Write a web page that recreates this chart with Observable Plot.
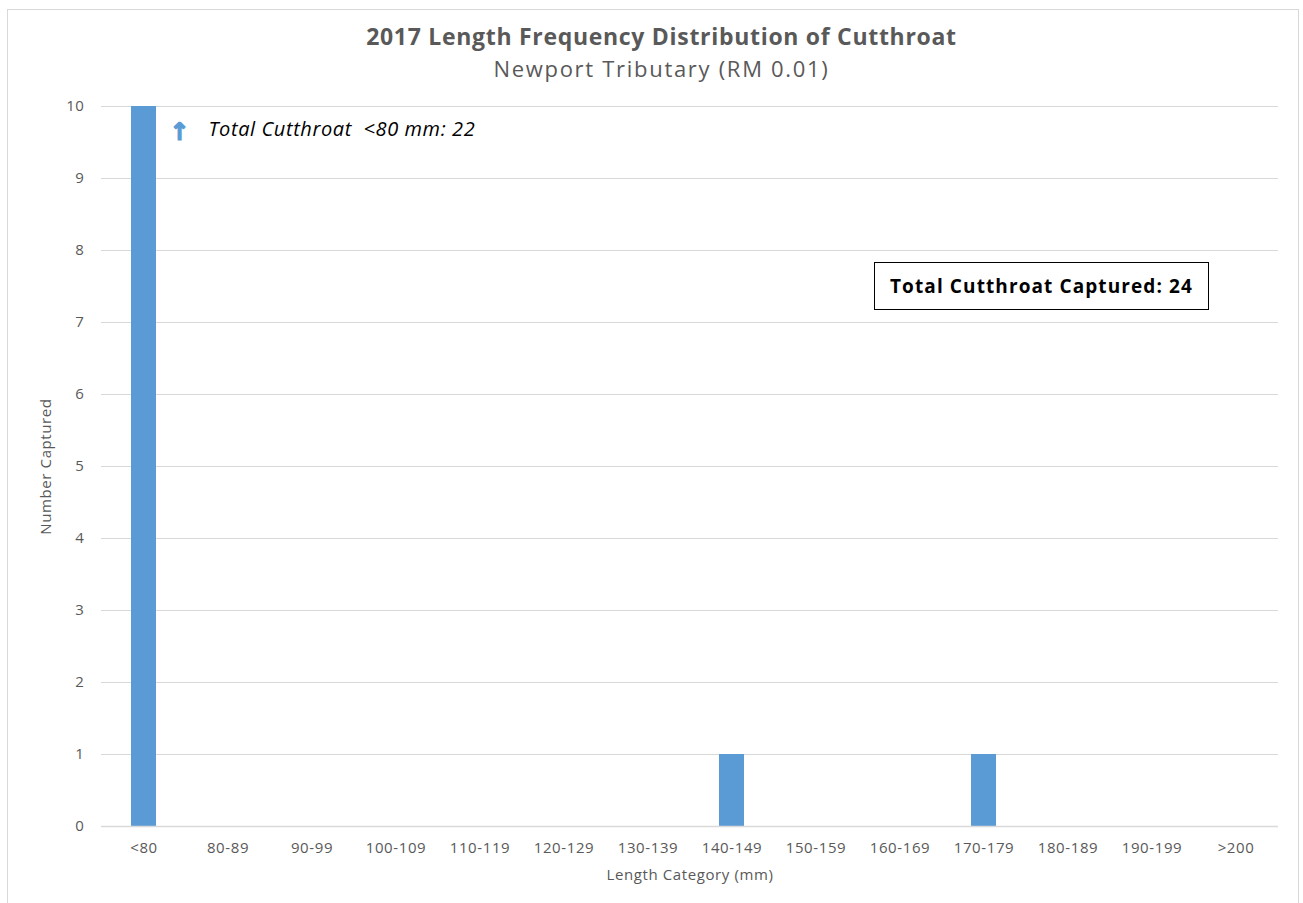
<!DOCTYPE html>
<html>
<head>
<meta charset="utf-8">
<script src="https://cdn.jsdelivr.net/npm/d3@7"></script>
<script src="https://cdn.jsdelivr.net/npm/@observablehq/plot@0.6"></script>
<style>
  html, body { margin: 0; padding: 0; background: #fff; }
  body { width: 1303px; height: 903px; overflow: hidden; position: relative; font-family: "Open Sans", sans-serif; }
  #frame { position: absolute; left: 7px; top: 9px; width: 1292px; height: 900px; border: 1px solid #d9d9d9; box-sizing: border-box; }
  #titles { position: absolute; left: 0; top: 0; width: 1303px; height: 88px; text-align: center; color: #595959; }
  #title { position: absolute; left: 0; width: 1323px; top: 20px; font-size: 23px; font-weight: bold; letter-spacing: 0.7px; }
  #subtitle { position: absolute; left: 0; width: 1323px; top: 53px; font-size: 22px; letter-spacing: 1.7px; }
  #chart { position: absolute; left: 0; top: 88px; }
  #totalbox { position: absolute; left: 874px; top: 262px; width: 335px; height: 48px; border: 1px solid #000; box-sizing: border-box; background: #fff;
              font-size: 19px; font-weight: bold; color: #000; letter-spacing: 1.1px; display: flex; align-items: center; justify-content: center; }
</style>
</head>
<body>
<div id="frame"></div>
<div id="titles">
  <div id="title">2017 Length Frequency Distribution of Cutthroat</div>
  <div id="subtitle">Newport Tributary (RM 0.01)</div>
</div>
<div id="chart"></div>
<div id="totalbox"></div>
<script>
// Length categories (mm) and number of cutthroat captured in each
const categories = ["<80", "80-89", "90-99", "100-109", "110-119", "120-129", "130-139",
                    "140-149", "150-159", "160-169", "170-179", "180-189", "190-199", ">200"];
const counts = [22, 0, 0, 0, 0, 0, 0, 1, 0, 0, 1, 0, 0, 0];
const yTicks = [0, 1, 2, 3, 4, 5, 6, 7, 8, 9, 10];

const data = categories.map((c, i) => ({category: c, count: counts[i]}));
const total = d3.sum(counts);

const chart = Plot.plot({
  width: 1303,
  height: 815,
  marginLeft: 101,
  marginRight: 25,
  marginTop: 18,
  marginBottom: 77,
  style: {fontFamily: "'Open Sans', sans-serif", fontSize: "15px", color: "#595959", background: "transparent", letterSpacing: "0.6px"},
  x: {domain: categories, paddingInner: 0.7, paddingOuter: 0.35, label: null},
  y: {domain: [0, 10], label: null},
  marks: [
    Plot.gridY(yTicks, {stroke: "#d9d9d9", strokeOpacity: 1, strokeWidth: 1}),
    // the <80 bar runs off the top of the 0–10 axis and is clipped there
    Plot.barY(data, {x: "category", y: "count", fill: "#5b9bd5", clip: true}),
    Plot.ruleY([0], {stroke: "#d9d9d9", strokeWidth: 1.5}),
    Plot.axisY(yTicks, {tickSize: 0, tickPadding: 17, tickFormat: "d", fill: "#595959", fontSize: 15, label: null}),
    Plot.axisX({tickSize: 0, tickPadding: 16, fill: "#595959", fontSize: 15, label: null}),
    // axis titles
    Plot.text(["Number Captured"], {frameAnchor: "left", textAnchor: "middle", dx: -55, rotate: -90, fontSize: 15, fill: "#595959", letterSpacing: "0.3px"}),
    Plot.text(["Length Category (mm)"], {frameAnchor: "bottom", textAnchor: "middle", dy: 53, fontSize: 15, fill: "#595959", letterSpacing: "2px"}),
    // note on the clipped first bar
    Plot.text(["↑"], {frameAnchor: "top-left", textAnchor: "middle", dx: 78, dy: 16, fontSize: 24, fontWeight: "bold", fontFamily: "DejaVu Sans",
                      fill: "#5b9bd5", stroke: "#5b9bd5", strokeWidth: 1.2, letterSpacing: "0px"}),
    Plot.text([`Total Cutthroat  <80 mm: ${counts[0]}`], {frameAnchor: "top-left", textAnchor: "start", dx: 107, dy: 15, fontSize: 20, fontStyle: "italic", fill: "#000", letterSpacing: "1.1px"})
  ]
});
document.getElementById("chart").append(chart);
document.getElementById("totalbox").textContent = `Total Cutthroat Captured: ${total}`;
</script>
</body>
</html>
